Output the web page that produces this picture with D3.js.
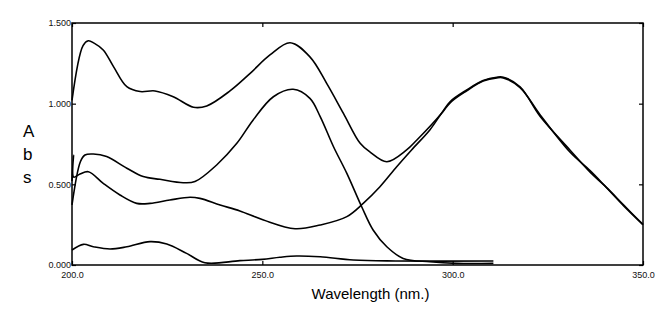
<!DOCTYPE html>
<html>
<head>
<meta charset="utf-8">
<script src="https://cdn.jsdelivr.net/npm/d3@7"></script>
<style>
  body { margin: 0; background: #fff; }
  text { font-family: "Liberation Sans", Arial, sans-serif; }
</style>
</head>
<body>
<div id="chart"></div>
<script>
// Spectra (wavelength in nm, absorbance)
const nmA  = [200, 202.9, 204.3, 205.8, 208.2, 210.9, 214.4, 217.9, 221.8, 226.6, 231.9, 235.4, 241.5, 246.8, 252.0, 257.3, 262.5, 266.9, 271.3, 275.7, 278.3, 282.7, 287.9, 290.6, 296.7, 299.3, 303.7, 308.0, 311.6, 313.3, 317.7, 323.0, 330.8, 336.1, 340, 345, 350];
const absA = [1.02, 1.36, 1.39, 1.375, 1.333, 1.23, 1.105, 1.075, 1.079, 1.043, 0.978, 0.986, 1.079, 1.188, 1.302, 1.378, 1.29, 1.126, 0.94, 0.754, 0.70, 0.64, 0.713, 0.775, 0.93, 1.012, 1.085, 1.143, 1.164, 1.164, 1.105, 0.92, 0.713, 0.575, 0.49, 0.37, 0.25];

const nmB  = [200, 202.2, 203.4, 205.6, 209.1, 214.4, 218.7, 223.1, 229.2, 232.3, 238.0, 243.3, 247.6, 252.9, 258.1, 262.5, 265.2, 268.7, 272.2, 276.1, 279.1, 282.7, 287.0, 294.0, 301.1, 310.7];
const absB = [0.372, 0.64, 0.682, 0.688, 0.672, 0.60, 0.548, 0.531, 0.51, 0.517, 0.62, 0.754, 0.899, 1.043, 1.089, 1.033, 0.92, 0.733, 0.568, 0.361, 0.217, 0.113, 0.041, 0.02, 0.01, 0.01];

const nmC  = [200, 200.4, 200.45, 202.1, 204.3, 208.2, 212.6, 217.0, 220.5, 225.7, 231.0, 233.6, 238.9, 244.1, 250.3, 258.6, 265.2, 272.2, 276.5, 280.9, 285.3, 289.2, 294.0, 297.1, 299.8, 303.7, 308.0, 311.6, 313.3, 317.7, 323.0, 330.8, 336.1, 340, 345, 350];
const absC = [0.52, 0.68, 0.545, 0.564, 0.578, 0.506, 0.434, 0.382, 0.382, 0.403, 0.42, 0.413, 0.372, 0.335, 0.279, 0.225, 0.248, 0.30, 0.382, 0.485, 0.609, 0.713, 0.837, 0.94, 1.015, 1.08, 1.14, 1.16, 1.16, 1.10, 0.93, 0.70, 0.585, 0.49, 0.365, 0.25];

const nmD  = [200, 203.0, 205.6, 210.0, 214.4, 220.5, 224.9, 230.1, 234.9, 244.1, 250, 254.6, 259.0, 265.2, 273.9, 285, 310.7];
const absD = [0.093, 0.128, 0.113, 0.099, 0.113, 0.145, 0.13, 0.072, 0.014, 0.027, 0.035, 0.048, 0.056, 0.051, 0.031, 0.025, 0.025];

const xTicks = [200, 250, 300, 350];
const yTicks = [0, 0.5, 1.0, 1.5];

const margin = { top: 23, right: 28, bottom: 53, left: 72 },
    width = 671 - margin.left - margin.right,
    height = 318 - margin.top - margin.bottom;

const svg = d3.select("#chart")
    .append("svg")
    .attr("width", 671)
    .attr("height", 318);

const g = svg.append("g")
    .attr("transform", `translate(${margin.left},${margin.top})`);

const x = d3.scaleLinear().domain([200, 350]).range([0, width]);
const y = d3.scaleLinear().domain([0, 1.5]).range([height, 0]);

// Bottom axis with labels, ticks pointing inward
const xAxis = g.append("g")
    .attr("transform", `translate(0,${height})`)
    .call(d3.axisBottom(x).tickValues(xTicks).tickSize(-4).tickPadding(7).tickFormat(d3.format(".1f")));
xAxis.select(".domain").remove();
xAxis.selectAll("text").attr("font-size", "9px").attr("fill", "#111");

// Top axis, ticks only
const xTop = g.append("g")
    .call(d3.axisTop(x).tickValues(xTicks).tickSize(-4).tickFormat(""));
xTop.select(".domain").remove();

// Left axis with labels
const yAxis = g.append("g")
    .call(d3.axisLeft(y).tickValues(yTicks).tickSize(-4).tickPadding(1).tickFormat(d3.format(".3f")));
yAxis.select(".domain").remove();
yAxis.selectAll("text").attr("font-size", "9px").attr("fill", "#111");

// Right axis, ticks only
const yRight = g.append("g")
    .attr("transform", `translate(${width},0)`)
    .call(d3.axisRight(y).tickValues(yTicks).tickSize(-4).tickFormat(""));
yRight.select(".domain").remove();

g.selectAll(".tick line").attr("stroke", "#000").attr("stroke-width", 1.2);

// Frame
g.append("rect")
    .attr("width", width)
    .attr("height", height)
    .attr("fill", "none")
    .attr("stroke", "#000")
    .attr("stroke-width", 1.5);

// Spectra
const line = d3.line()
    .x(d => x(d[0]))
    .y(d => y(d[1]))
    .curve(d3.curveCatmullRom.alpha(0.5));

const series = [
    d3.zip(nmA, absA),
    d3.zip(nmB, absB),
    d3.zip(nmC, absC),
    d3.zip(nmD, absD)
];

series.forEach(s => {
    g.append("path")
        .datum(s)
        .attr("fill", "none")
        .attr("stroke", "#000")
        .attr("stroke-width", 1.6)
        .attr("stroke-linejoin", "round")
        .attr("d", line);
});

// Axis titles
svg.append("text")
    .attr("x", margin.left + width / 2 + 13)
    .attr("y", 299)
    .attr("text-anchor", "middle")
    .attr("font-size", "15px")
    .attr("fill", "#000")
    .text("Wavelength (nm.)");

["A", "b", "s"].forEach((ch, i) => {
    svg.append("text")
        .attr("x", 23)
        .attr("y", 137 + i * 23)
        .attr("font-size", "17px")
        .attr("fill", "#000")
        .text(ch);
});
</script>
</body>
</html>
